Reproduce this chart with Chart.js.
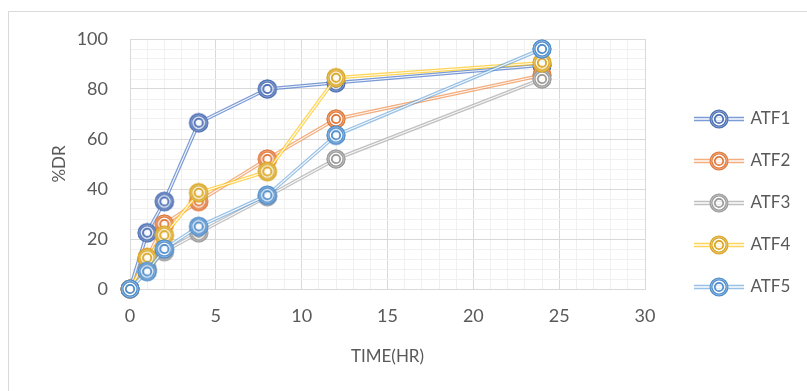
<!DOCTYPE html>
<html>
<head>
<meta charset="utf-8">
<script src="https://cdn.jsdelivr.net/npm/chart.js@4.4.1/dist/chart.umd.min.js"></script>
<style>
  html, body { margin: 0; padding: 0; background: #fff; }
  #wrap { position: relative; width: 807px; height: 391px; overflow: hidden; }
  #frame { position: absolute; left: 8px; top: 11px; width: 820px; height: 400px;
           border-left: 1px solid #d9d9d9; border-top: 1px solid #d9d9d9; }
  canvas { position: absolute; left: 0; top: 0; }
</style>
</head>
<body>
<div id="wrap">
  <div id="frame"></div>
  <canvas id="c" width="807" height="391"></canvas>
</div>
<script>
// Sampling times (hours)
const timeHr = [0, 1, 2, 4, 8, 12, 24];

// Cumulative drug release (%) per formulation
const atf1 = [0, 22.5, 35, 66.5, 80, 82.5, 89.5];
const atf2 = [0, 12.5, 26, 35, 52, 68, 85.5];
const atf3 = [0, 8, 15, 22.5, 37, 52, 84];
const atf4 = [0, 12.5, 21.5, 38.5, 47, 84.5, 90.5];
const atf5 = [0, 7, 16, 25, 37.5, 61.5, 96];

const seriesNames = ['ATF1', 'ATF2', 'ATF3', 'ATF4', 'ATF5'];
const seriesValues = [atf1, atf2, atf3, atf4, atf5];

// Axis tick settings: labelled major steps, unlabelled minor grid steps
const xTicks = { min: 0, max: 30, step: 5, minorStep: 1 };
const yTicks = { min: 0, max: 100, step: 20, minorStep: 4 };

const lineColors = ['rgba(68,114,196,0.7)', 'rgba(237,125,49,0.62)', 'rgba(165,165,165,0.7)', 'rgba(255,192,0,0.65)', 'rgba(91,155,213,0.62)'];
const markColors = ['#4a6db3', '#e0783a', '#9a9a9a', '#d9a521', '#4d8ccb'];

// Double-ring marker, drawn onto an offscreen canvas
function ringMarker(color, w, withLine, lineColor) {
  const h = 22;
  const cv = document.createElement('canvas');
  cv.width = w; cv.height = h;
  const g = cv.getContext('2d');
  const cx = w / 2, cy = h / 2;
  if (withLine) {
    g.strokeStyle = lineColor;
    g.lineWidth = 1.5;
    g.beginPath(); g.moveTo(0, cy - 1.5); g.lineTo(w, cy - 1.5); g.stroke();
    g.beginPath(); g.moveTo(0, cy + 1.5); g.lineTo(w, cy + 1.5); g.stroke();
  }
  g.fillStyle = 'rgba(255,255,255,0.7)';
  g.beginPath(); g.arc(cx, cy, 8, 0, Math.PI * 2); g.fill();
  g.strokeStyle = color;
  g.lineWidth = 3;
  g.beginPath(); g.arc(cx, cy, 8, 0, Math.PI * 2); g.stroke();
  g.lineWidth = 1.7;
  g.beginPath(); g.arc(cx, cy, 4.2, 0, Math.PI * 2); g.stroke();
  g.strokeStyle = 'rgba(255,255,255,0.5)';
  g.lineWidth = 0.7;
  g.beginPath(); g.arc(cx, cy, 8, 0, Math.PI * 2); g.stroke();
  return cv;
}

const markers = markColors.map(c => ringMarker(c, 22, false));
const legendMarks = markColors.map((c, i) => ringMarker(c, 50, true, lineColors[i]));

const datasets = seriesNames.map((name, i) => ({
  label: name,
  data: timeHr.map((t, k) => ({ x: t, y: seriesValues[i][k] })),
  borderColor: lineColors[i],
  backgroundColor: lineColors[i],
  borderWidth: 3.6,
  tension: 0,
  pointStyle: markers[i],
  pointRadius: 9,
  order: seriesNames.length - i,
  xAxisID: 'x',
  yAxisID: 'y'
}));

// Thin light stroke through each line gives the doubled-line look
const doubleLine = {
  id: 'doubleLine',
  afterDatasetDraw(chart, args) {
    const pts = args.meta.data;
    const ctx = chart.ctx;
    ctx.save();
    ctx.beginPath();
    pts.forEach((p, k) => { if (k === 0) ctx.moveTo(p.x, p.y); else ctx.lineTo(p.x, p.y); });
    ctx.strokeStyle = 'rgba(255,255,255,0.9)';
    ctx.lineWidth = 1.2;
    ctx.stroke();
    ctx.restore();
    pts.forEach(p => p.draw(ctx, chart.chartArea));
  }
};

const labelColor = '#595959';
const font = 'Lato, "Open Sans", sans-serif';
const majorGrid = '#d9d9d9';
const minorGrid = '#f0f0f0';

new Chart(document.getElementById('c'), {
  type: 'line',
  data: { datasets },
  plugins: [doubleLine],
  options: {
    responsive: false,
    animation: false,
    devicePixelRatio: 1,
    layout: { padding: { left: 49, right: 11.6, top: 39, bottom: 24 } },
    plugins: {
      tooltip: { enabled: false },
      legend: {
        position: 'right',
        labels: {
          color: labelColor,
          font: { family: font, size: 17 },
          usePointStyle: true,
          pointStyleWidth: 46,
          padding: 25,
          generateLabels(chart) {
            return chart.data.datasets.map((d, i) => ({
              text: d.label,
              pointStyle: legendMarks[i],
              fontColor: labelColor,
              strokeStyle: 'transparent',
              fillStyle: 'transparent',
              lineWidth: 0,
              datasetIndex: i
            }));
          }
        }
      }
    },
    scales: {
      gap: {
        type: 'linear', position: 'right', min: 0, max: 1,
        ticks: { display: false },
        grid: { display: false, drawTicks: false },
        border: { display: false },
        afterFit(s) { s.width = 26; }
      },
      x: {
        type: 'linear', position: 'bottom', min: xTicks.min, max: xTicks.max,
        ticks: {
          stepSize: xTicks.minorStep, autoSkip: false, maxTicksLimit: 200,
          color: labelColor, font: { family: font, size: 18 }, padding: 16, maxRotation: 0,
          callback: v => (v % xTicks.step === 0 ? String(v) : '')
        },
        grid: {
          color: c => (c.tick && c.tick.value % xTicks.step === 0 ? majorGrid : minorGrid),
          drawTicks: false, lineWidth: 1
        },
        border: { color: majorGrid },
        title: { display: true, text: 'TIME(HR)', color: labelColor, font: { family: font, size: 17 }, padding: { top: 4, bottom: 0 } }
      },
      y: {
        type: 'linear', position: 'left', min: yTicks.min, max: yTicks.max,
        ticks: {
          stepSize: yTicks.minorStep, autoSkip: false, maxTicksLimit: 200,
          color: labelColor, font: { family: font, size: 18 }, padding: 22,
          callback: v => (v % yTicks.step === 0 ? String(v) : '')
        },
        grid: {
          color: c => (c.tick && c.tick.value % yTicks.step === 0 ? majorGrid : minorGrid),
          drawTicks: false, lineWidth: 1
        },
        border: { color: majorGrid },
        title: { display: true, text: '%DR', color: labelColor, font: { family: font, size: 17 }, padding: { top: 0, bottom: 0 } },
        afterFit(s) { s.width = 81; }
      }
    }
  }
});
</script>
</body>
</html>
